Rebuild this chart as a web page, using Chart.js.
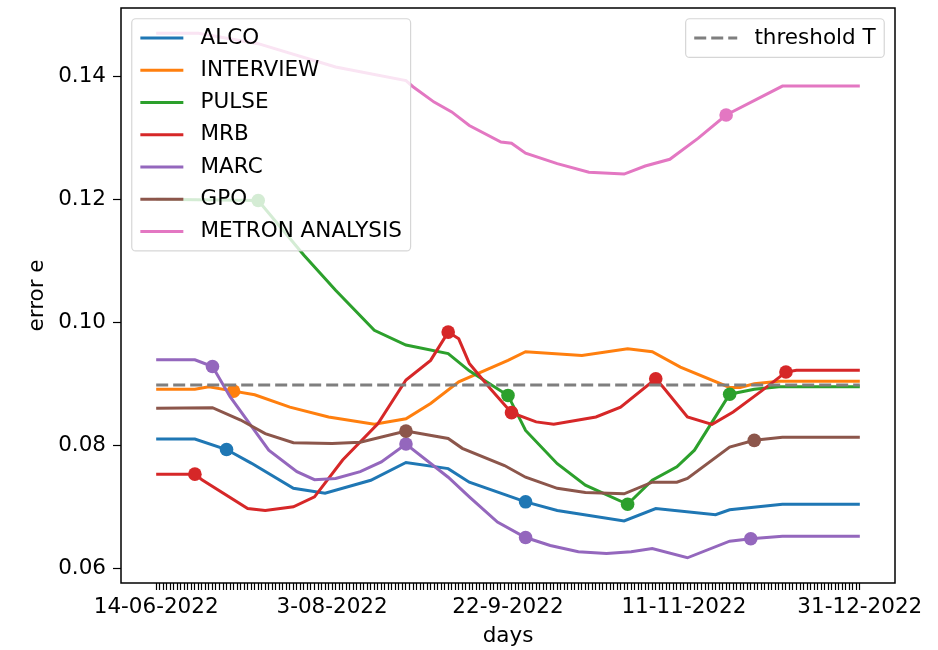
<!DOCTYPE html>
<html>
<head>
<meta charset="utf-8">
<title>error e per day</title>
<script src="https://cdn.jsdelivr.net/npm/chart.js@4.4.0/dist/chart.umd.min.js"></script>
<style>
  html, body { margin: 0; padding: 0; background: #fff; }
  #errorChart { display: block; }
</style>
</head>
<body>
<canvas id="errorChart" width="938" height="650"></canvas>
<script>
// Day numbers count from 14-06-2022 (day 0) to 31-12-2022 (day 200)
const alcoDays = [0, 11, 20, 27, 39, 48, 61, 71, 83, 89, 105, 114, 133, 142, 159, 163, 178, 200];
const alcoErrors = [0.0810, 0.0810, 0.0793, 0.0771, 0.0730, 0.0722, 0.0743, 0.0772, 0.0762, 0.0740, 0.0708, 0.0694, 0.0677, 0.0697, 0.0687, 0.0695, 0.0704, 0.0704];
const alcoMarks = [20, 105];

const interviewDays = [0, 11, 15, 22, 28, 38, 49, 62, 71, 78, 86, 100, 105, 121, 134, 141, 149, 163, 166, 170, 177, 200];
const interviewErrors = [0.0891, 0.0891, 0.0895, 0.0888, 0.0882, 0.0862, 0.0846, 0.0834, 0.0843, 0.0868, 0.0903, 0.0938, 0.0952, 0.0946, 0.0957, 0.0952, 0.0927, 0.0894, 0.0894, 0.0900, 0.0904, 0.0904];
const interviewMarks = [22];

const pulseDays = [0, 29, 42, 51, 62, 71, 83, 89, 100, 105, 114, 122, 134, 141, 148, 153, 163, 170, 177, 200];
const pulseErrors = [0.1200, 0.1198, 0.1109, 0.1052, 0.0987, 0.0963, 0.0949, 0.0921, 0.0881, 0.0824, 0.0770, 0.0735, 0.0704, 0.0743, 0.0765, 0.0792, 0.0883, 0.0891, 0.0895, 0.0895];
const pulseMarks = [29, 100, 134, 163];

const mrbDays = [0, 11, 13, 26, 31, 39, 45, 53, 63, 71, 78, 83, 86, 89, 95, 101, 108, 113, 125, 132, 142, 144, 151, 158, 164, 172, 179, 182, 200];
const mrbErrors = [0.0753, 0.0753, 0.0744, 0.0697, 0.0694, 0.0700, 0.0716, 0.0776, 0.0835, 0.0906, 0.0938, 0.0984, 0.0973, 0.0933, 0.0892, 0.0853, 0.0838, 0.0834, 0.0846, 0.0862, 0.0908, 0.0895, 0.0846, 0.0834, 0.0854, 0.0888, 0.0919, 0.0922, 0.0922];
const mrbMarks = [11, 83, 101, 142, 179];

const marcDays = [0, 11, 16, 21, 32, 40, 45, 51, 58, 64, 71, 83, 89, 97, 105, 112, 120, 128, 135, 141, 151, 163, 169, 178, 200];
const marcErrors = [0.0939, 0.0939, 0.0928, 0.0879, 0.0792, 0.0757, 0.0744, 0.0746, 0.0757, 0.0773, 0.0802, 0.0748, 0.0716, 0.0675, 0.0650, 0.0637, 0.0627, 0.0624, 0.0627, 0.0632, 0.0617, 0.0644, 0.0648, 0.0652, 0.0652];
const marcMarks = [16, 71, 105, 169];

const gpoDays = [0, 16, 24, 31, 39, 50, 58, 71, 83, 87, 99, 105, 114, 122, 133, 141, 148, 151, 163, 170, 178, 200];
const gpoErrors = [0.0860, 0.0861, 0.0841, 0.0819, 0.0804, 0.0803, 0.0805, 0.0823, 0.0811, 0.0795, 0.0767, 0.0748, 0.0730, 0.0723, 0.0721, 0.0740, 0.0740, 0.0746, 0.0797, 0.0808, 0.0813, 0.0813];
const gpoMarks = [71, 170];

const metronDays = [0, 12, 29, 51, 71, 73, 79, 84, 89, 98, 101, 105, 114, 123, 133, 139, 146, 154, 162, 178, 200];
const metronErrors = [0.1470, 0.1470, 0.1453, 0.1415, 0.1393, 0.1383, 0.1358, 0.1342, 0.1320, 0.1293, 0.1291, 0.1275, 0.1258, 0.1244, 0.1241, 0.1254, 0.1265, 0.1299, 0.1337, 0.1384, 0.1384];
const metronMarks = [162];

const thresholdDays = [0, 200];
const thresholdErrors = [0.0898, 0.0898];

// Tick labels on the x axis and tick values on the y axis
const xTickDays = [0, 50, 100, 150, 200];
const xTickLabels = ['14-06-2022', '3-08-2022', '22-9-2022', '11-11-2022', '31-12-2022'];
const yTickValues = [0.06, 0.08, 0.10, 0.12, 0.14];
const lastDay = 200;

const FONT_SIZE = 21.5;
const FONT_FAMILY = '"DejaVu Sans", sans-serif';

const series = [
    { label: 'ALCO', days: alcoDays, errors: alcoErrors, marks: alcoMarks, color: '#1f77b4' },
    { label: 'INTERVIEW', days: interviewDays, errors: interviewErrors, marks: interviewMarks, color: '#ff7f0e' },
    { label: 'PULSE', days: pulseDays, errors: pulseErrors, marks: pulseMarks, color: '#2ca02c' },
    { label: 'MRB', days: mrbDays, errors: mrbErrors, marks: mrbMarks, color: '#d62728' },
    { label: 'MARC', days: marcDays, errors: marcErrors, marks: marcMarks, color: '#9467bd' },
    { label: 'GPO', days: gpoDays, errors: gpoErrors, marks: gpoMarks, color: '#8c564b' },
    { label: 'METRON ANALYSIS', days: metronDays, errors: metronErrors, marks: metronMarks, color: '#e377c2' }
];
const threshold = { label: 'threshold T', color: '#7f7f7f', dash: [12, 5] };

function toPoints(days, errors) {
    return days.map((d, i) => ({ x: d, y: errors[i] }));
}

// One tick mark for every day
const everyDay = [];
for (let d = 0; d <= lastDay; d++) everyDay.push(d);

const datasets = series.map((s, i) => ({
    label: s.label,
    data: toPoints(s.days, s.errors),
    borderColor: s.color,
    backgroundColor: s.color,
    borderWidth: 3,
    tension: 0,
    pointRadius: ctx => (ctx.raw && s.marks.includes(ctx.raw.x)) ? 6.8 : 0,
    pointHoverRadius: 0,
    pointBorderWidth: 0,
    order: 20 - i  // later series are drawn on top, like matplotlib
}));

datasets.push({
    label: threshold.label,
    data: toPoints(thresholdDays, thresholdErrors),
    borderColor: threshold.color,
    borderWidth: 3,
    borderDash: threshold.dash,
    pointRadius: 0,
    order: 0
});

// Draws one matplotlib-style legend box
function drawLegend(ctx, items, anchorX, anchorY, alignRight) {
    const fs = FONT_SIZE;
    const pad = 0.4 * fs;
    const handleLen = 2 * fs;
    const handlePad = 0.8 * fs;
    const rowH = fs;
    const rowGap = 0.5 * fs;

    ctx.font = `${fs}px ${FONT_FAMILY}`;
    const textW = Math.max(...items.map(it => ctx.measureText(it.label).width));
    const w = pad + handleLen + handlePad + textW + pad;
    const h = 2 * pad + items.length * rowH + (items.length - 1) * rowGap;
    const x = alignRight ? anchorX - w : anchorX;
    const y = anchorY;

    ctx.beginPath();
    ctx.roundRect(x, y, w, h, 4);
    ctx.fillStyle = 'rgba(255,255,255,0.8)';
    ctx.fill();
    ctx.lineWidth = 1.2;
    ctx.strokeStyle = 'rgba(204,204,204,0.8)';
    ctx.stroke();

    items.forEach((it, i) => {
        const cy = y + pad + i * (rowH + rowGap) + rowH / 2;
        ctx.beginPath();
        ctx.setLineDash(it.dash || []);
        ctx.moveTo(x + pad, cy);
        ctx.lineTo(x + pad + handleLen, cy);
        ctx.strokeStyle = it.color;
        ctx.lineWidth = 3;
        ctx.stroke();
        ctx.setLineDash([]);

        ctx.fillStyle = '#000';
        ctx.textAlign = 'left';
        ctx.textBaseline = 'middle';
        ctx.fillText(it.label, x + pad + handleLen + handlePad, cy);
    });
}

// Frame around the axes and both legends
const framePlugin = {
    id: 'frameAndLegends',
    afterDraw: (chart) => {
        const ctx = chart.ctx;
        const area = chart.chartArea;
        ctx.save();
        ctx.strokeStyle = '#000';
        ctx.lineWidth = 1.5;
        ctx.strokeRect(area.left, area.top, area.right - area.left, area.bottom - area.top);

        const gap = 0.5 * FONT_SIZE;
        drawLegend(ctx, series, area.left + gap, area.top + gap, false);
        drawLegend(ctx, [threshold], area.right - gap, area.top + gap, true);
        ctx.restore();
    }
};

Chart.defaults.font.family = FONT_FAMILY;
Chart.defaults.font.size = FONT_SIZE;
Chart.defaults.color = '#000';

new Chart(document.getElementById('errorChart'), {
    type: 'line',
    data: { datasets: datasets },
    options: {
        responsive: false,
        animation: false,
        events: [],
        layout: { padding: { top: 8, right: 43, left: 0, bottom: 0 } },
        plugins: {
            legend: { display: false },
            tooltip: { enabled: false }
        },
        scales: {
            x: {
                type: 'linear',
                min: -10,
                max: 210,
                afterBuildTicks: (scale) => { scale.ticks = everyDay.map(d => ({ value: d })); },
                afterFit: (scale) => { scale.height = 67; },
                ticks: {
                    autoSkip: false,
                    maxRotation: 0,
                    minRotation: 0,
                    padding: 5,
                    callback: function (value) {
                        const i = xTickDays.indexOf(value);
                        return i >= 0 ? xTickLabels[i] : '';
                    }
                },
                grid: { drawOnChartArea: false, tickLength: 7, tickWidth: 1.2, tickColor: '#000' },
                border: { display: false },
                title: { display: true, text: 'days', padding: { top: 0, bottom: 1 } }
            },
            y: {
                type: 'linear',
                min: 0.0576,
                max: 0.1511,
                afterBuildTicks: (scale) => { scale.ticks = yTickValues.map(v => ({ value: v })); },
                afterFit: (scale) => {
                    scale.width = 121;
                    // the tick labels sit well inside the range, so no extra room above or below
                    scale.paddingTop = 0;
                    scale.paddingBottom = 0;
                },
                ticks: {
                    padding: 7,
                    callback: value => value.toFixed(2)
                },
                grid: { drawOnChartArea: false, tickLength: 8, tickWidth: 1.2, tickColor: '#000' },
                border: { display: false },
                title: { display: true, text: 'error e', padding: { top: 25, bottom: 0 } }
            }
        }
    },
    plugins: [framePlugin]
});
</script>
</body>
</html>
